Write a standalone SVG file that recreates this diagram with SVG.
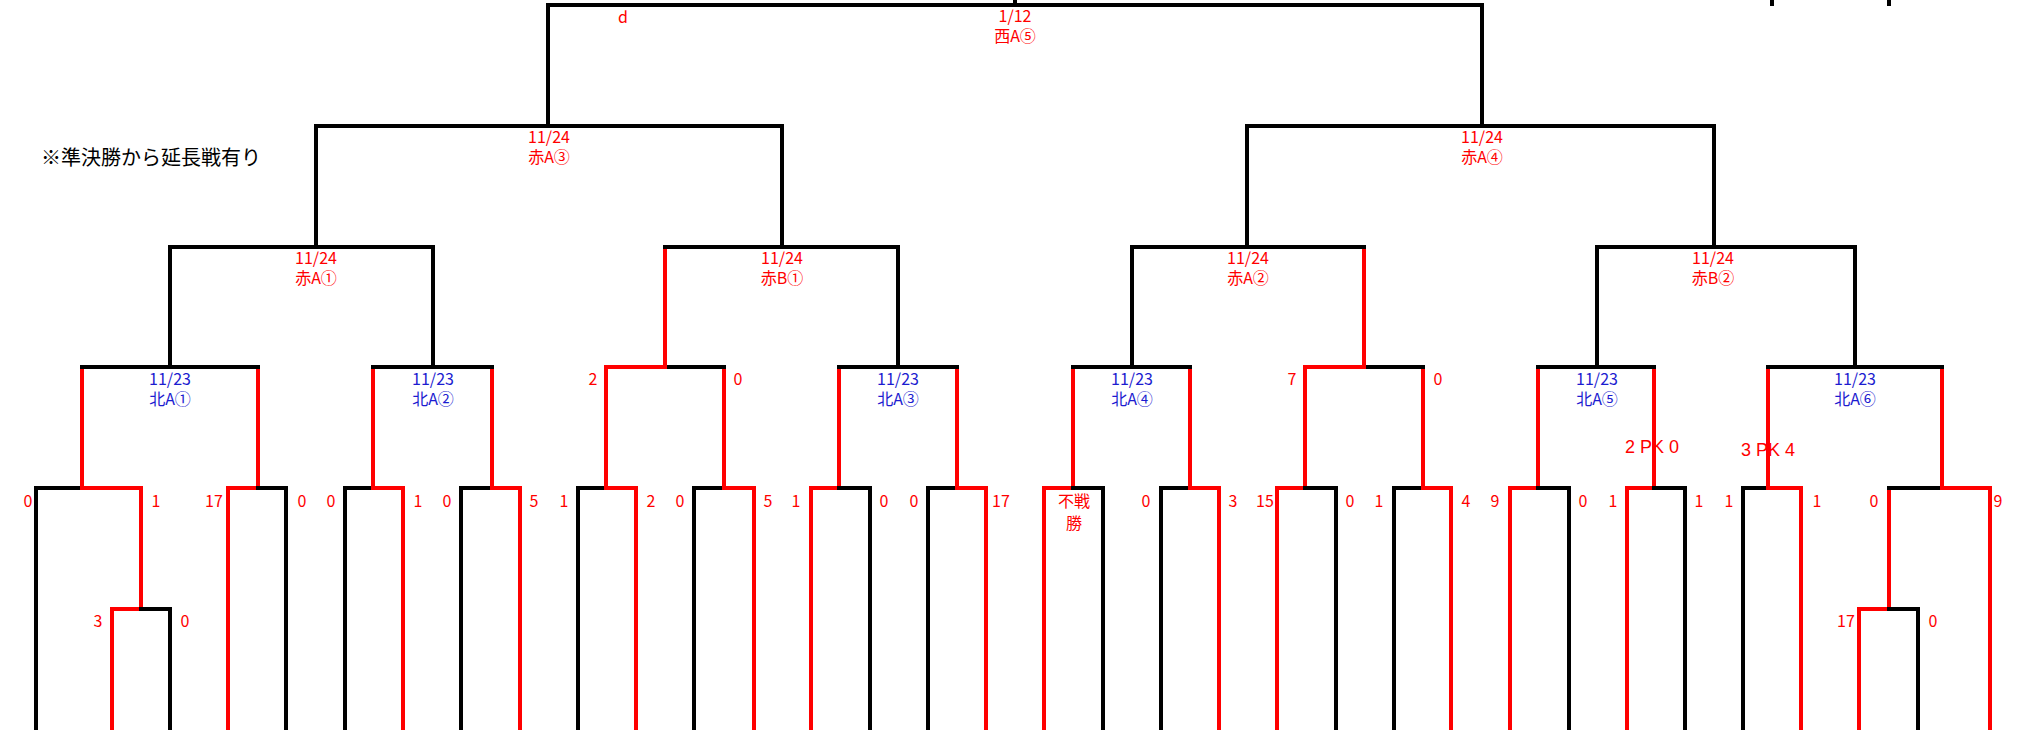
<svg xmlns="http://www.w3.org/2000/svg" width="2029" height="730" viewBox="0 0 2029 730">
<style>
.k{stroke:#000;stroke-width:4;stroke-linecap:square;fill:none}
.r{stroke:#FF0000;stroke-width:4;stroke-linecap:square;fill:none}
text{font-family:"Noto Sans CJK JP","Liberation Sans",sans-serif;font-size:16px;text-anchor:middle}
.rd{fill:#FF0000}
.bl{fill:#1C1CD0}
.pk{font-family:"Liberation Sans",sans-serif;font-size:18px}
.note{font-size:20px;text-anchor:start;fill:#000}
</style>
<rect width="2029" height="730" fill="#fff"/>
<g id="connectors">
<!-- final -->
<line class="k" x1="548" y1="5" x2="548" y2="126"/>
<line class="k" x1="1482" y1="5" x2="1482" y2="126"/>
<line class="k" x1="548" y1="5" x2="1482" y2="5"/>
<line class="k" x1="1015" y1="0" x2="1015" y2="5"/>
<line class="k" x1="1772" y1="0" x2="1772" y2="4"/>
<line class="k" x1="1889" y1="0" x2="1889" y2="4"/>
<!-- level 2 -->
<line class="k" x1="316" y1="126" x2="316" y2="247"/>
<line class="k" x1="782" y1="126" x2="782" y2="247"/>
<line class="k" x1="316" y1="126" x2="782" y2="126"/>
<line class="k" x1="1247" y1="126" x2="1247" y2="247"/>
<line class="k" x1="1714" y1="126" x2="1714" y2="247"/>
<line class="k" x1="1247" y1="126" x2="1714" y2="126"/>
<!-- level 3 -->
<line class="k" x1="170" y1="247" x2="170" y2="367"/>
<line class="k" x1="433" y1="247" x2="433" y2="367"/>
<line class="r" x1="665" y1="249" x2="665" y2="367"/>
<line class="k" x1="898" y1="247" x2="898" y2="367"/>
<line class="k" x1="1132" y1="247" x2="1132" y2="367"/>
<line class="r" x1="1364" y1="249" x2="1364" y2="367"/>
<line class="k" x1="1597" y1="247" x2="1597" y2="367"/>
<line class="k" x1="1855" y1="247" x2="1855" y2="367"/>
<line class="k" x1="170" y1="247" x2="433" y2="247"/>
<line class="k" x1="665" y1="247" x2="898" y2="247"/>
<line class="k" x1="1132" y1="247" x2="1364" y2="247"/>
<line class="k" x1="1597" y1="247" x2="1855" y2="247"/>
<!-- level 4 -->
<line class="r" x1="82" y1="369" x2="82" y2="488"/>
<line class="r" x1="258" y1="369" x2="258" y2="488"/>
<line class="r" x1="373" y1="369" x2="373" y2="488"/>
<line class="r" x1="492" y1="369" x2="492" y2="488"/>
<line class="r" x1="606" y1="369" x2="606" y2="488"/>
<line class="r" x1="724" y1="369" x2="724" y2="488"/>
<line class="r" x1="839" y1="369" x2="839" y2="488"/>
<line class="r" x1="957" y1="369" x2="957" y2="488"/>
<line class="r" x1="1073" y1="369" x2="1073" y2="488"/>
<line class="r" x1="1190" y1="369" x2="1190" y2="488"/>
<line class="r" x1="1305" y1="369" x2="1305" y2="488"/>
<line class="r" x1="1423" y1="369" x2="1423" y2="488"/>
<line class="r" x1="1538" y1="369" x2="1538" y2="488"/>
<line class="r" x1="1654" y1="369" x2="1654" y2="488"/>
<line class="r" x1="1768" y1="369" x2="1768" y2="488"/>
<line class="r" x1="1942" y1="369" x2="1942" y2="488"/>
<line class="k" x1="82" y1="367" x2="258" y2="367"/>
<line class="k" x1="373" y1="367" x2="492" y2="367"/>
<line class="k" x1="665" y1="367" x2="724" y2="367"/>
<line class="r" x1="606" y1="367" x2="665" y2="367"/>
<line class="k" x1="839" y1="367" x2="957" y2="367"/>
<line class="k" x1="1073" y1="367" x2="1190" y2="367"/>
<line class="k" x1="1364" y1="367" x2="1423" y2="367"/>
<line class="r" x1="1305" y1="367" x2="1364" y2="367"/>
<line class="k" x1="1538" y1="367" x2="1654" y2="367"/>
<line class="k" x1="1768" y1="367" x2="1942" y2="367"/>
<!-- level 5 verticals -->
<line class="k" x1="36" y1="488" x2="36" y2="732"/>
<line class="r" x1="141" y1="488" x2="141" y2="609"/>
<line class="r" x1="228" y1="488" x2="228" y2="732"/>
<line class="k" x1="286" y1="488" x2="286" y2="732"/>
<line class="k" x1="345" y1="488" x2="345" y2="732"/>
<line class="r" x1="403" y1="488" x2="403" y2="732"/>
<line class="k" x1="461" y1="488" x2="461" y2="732"/>
<line class="r" x1="520" y1="488" x2="520" y2="732"/>
<line class="k" x1="578" y1="488" x2="578" y2="732"/>
<line class="r" x1="636" y1="488" x2="636" y2="732"/>
<line class="k" x1="694" y1="488" x2="694" y2="732"/>
<line class="r" x1="754" y1="488" x2="754" y2="732"/>
<line class="r" x1="811" y1="488" x2="811" y2="732"/>
<line class="k" x1="870" y1="488" x2="870" y2="732"/>
<line class="k" x1="928" y1="488" x2="928" y2="732"/>
<line class="r" x1="986" y1="488" x2="986" y2="732"/>
<line class="r" x1="1044" y1="488" x2="1044" y2="732"/>
<line class="k" x1="1103" y1="488" x2="1103" y2="732"/>
<line class="k" x1="1161" y1="488" x2="1161" y2="732"/>
<line class="r" x1="1219" y1="488" x2="1219" y2="732"/>
<line class="r" x1="1277" y1="488" x2="1277" y2="732"/>
<line class="k" x1="1336" y1="488" x2="1336" y2="732"/>
<line class="k" x1="1394" y1="488" x2="1394" y2="732"/>
<line class="r" x1="1451" y1="488" x2="1451" y2="732"/>
<line class="r" x1="1510" y1="488" x2="1510" y2="732"/>
<line class="k" x1="1569" y1="488" x2="1569" y2="732"/>
<line class="r" x1="1627" y1="488" x2="1627" y2="732"/>
<line class="k" x1="1685" y1="488" x2="1685" y2="732"/>
<line class="k" x1="1743" y1="488" x2="1743" y2="732"/>
<line class="r" x1="1801" y1="488" x2="1801" y2="732"/>
<line class="r" x1="1889" y1="488" x2="1889" y2="609"/>
<line class="r" x1="1990" y1="488" x2="1990" y2="732"/>
<!-- level 5 horizontals -->
<line class="k" x1="36" y1="488" x2="82" y2="488"/><line class="r" x1="82" y1="488" x2="141" y2="488"/>
<line class="r" x1="228" y1="488" x2="258" y2="488"/><line class="k" x1="258" y1="488" x2="286" y2="488"/>
<line class="k" x1="345" y1="488" x2="373" y2="488"/><line class="r" x1="373" y1="488" x2="403" y2="488"/>
<line class="k" x1="461" y1="488" x2="492" y2="488"/><line class="r" x1="492" y1="488" x2="520" y2="488"/>
<line class="k" x1="578" y1="488" x2="606" y2="488"/><line class="r" x1="606" y1="488" x2="636" y2="488"/>
<line class="k" x1="694" y1="488" x2="724" y2="488"/><line class="r" x1="724" y1="488" x2="754" y2="488"/>
<line class="r" x1="811" y1="488" x2="839" y2="488"/><line class="k" x1="839" y1="488" x2="870" y2="488"/>
<line class="k" x1="928" y1="488" x2="957" y2="488"/><line class="r" x1="957" y1="488" x2="986" y2="488"/>
<line class="r" x1="1044" y1="488" x2="1073" y2="488"/><line class="k" x1="1073" y1="488" x2="1103" y2="488"/>
<line class="k" x1="1161" y1="488" x2="1190" y2="488"/><line class="r" x1="1190" y1="488" x2="1219" y2="488"/>
<line class="r" x1="1277" y1="488" x2="1305" y2="488"/><line class="k" x1="1305" y1="488" x2="1336" y2="488"/>
<line class="k" x1="1394" y1="488" x2="1423" y2="488"/><line class="r" x1="1423" y1="488" x2="1451" y2="488"/>
<line class="r" x1="1510" y1="488" x2="1538" y2="488"/><line class="k" x1="1538" y1="488" x2="1569" y2="488"/>
<line class="r" x1="1627" y1="488" x2="1654" y2="488"/><line class="k" x1="1654" y1="488" x2="1685" y2="488"/>
<line class="k" x1="1743" y1="488" x2="1768" y2="488"/><line class="r" x1="1768" y1="488" x2="1801" y2="488"/>
<line class="k" x1="1889" y1="488" x2="1942" y2="488"/><line class="r" x1="1942" y1="488" x2="1990" y2="488"/>
<!-- level 6 -->
<line class="r" x1="112" y1="609" x2="112" y2="732"/>
<line class="k" x1="170" y1="609" x2="170" y2="732"/>
<line class="r" x1="112" y1="609" x2="141" y2="609"/><line class="k" x1="141" y1="609" x2="170" y2="609"/>
<line class="r" x1="1859" y1="609" x2="1859" y2="732"/>
<line class="k" x1="1918" y1="609" x2="1918" y2="732"/>
<line class="r" x1="1859" y1="609" x2="1889" y2="609"/><line class="k" x1="1889" y1="609" x2="1918" y2="609"/>
</g>
<text class="note" x="41" y="165">※準決勝から延長戦有り</text>
<g id="final"><text class="rd" x="1015" y="22">1/12</text><text class="rd" x="1015" y="42">西A⑤</text><text class="rd" x="623" y="23">d</text></g>
<g id="sf1"><text class="rd" x="549" y="143">11/24</text><text class="rd" x="549" y="163">赤A③</text></g>
<g id="sf2"><text class="rd" x="1482" y="143">11/24</text><text class="rd" x="1482" y="163">赤A④</text></g>
<g id="qf1"><text class="rd" x="316" y="264">11/24</text><text class="rd" x="316" y="284">赤A①</text></g>
<g id="qf2"><text class="rd" x="782" y="264">11/24</text><text class="rd" x="782" y="284">赤B①</text></g>
<g id="qf3"><text class="rd" x="1248" y="264">11/24</text><text class="rd" x="1248" y="284">赤A②</text></g>
<g id="qf4"><text class="rd" x="1713" y="264">11/24</text><text class="rd" x="1713" y="284">赤B②</text></g>
<g id="r16-1"><text class="bl" x="170" y="385">11/23</text><text class="bl" x="170" y="405">北A①</text></g>
<g id="r16-2"><text class="bl" x="433" y="385">11/23</text><text class="bl" x="433" y="405">北A②</text></g>
<g id="r16-3"><text class="rd" x="593" y="385">2</text><text class="rd" x="738" y="385">0</text></g>
<g id="r16-4"><text class="bl" x="898" y="385">11/23</text><text class="bl" x="898" y="405">北A③</text></g>
<g id="r16-5"><text class="bl" x="1132" y="385">11/23</text><text class="bl" x="1132" y="405">北A④</text></g>
<g id="r16-6"><text class="rd" x="1292" y="385">7</text><text class="rd" x="1438" y="385">0</text></g>
<g id="r16-7"><text class="bl" x="1597" y="385">11/23</text><text class="bl" x="1597" y="405">北A⑤</text><text class="rd pk" x="1652" y="453">2 PK 0</text></g>
<g id="r16-8"><text class="bl" x="1855" y="385">11/23</text><text class="bl" x="1855" y="405">北A⑥</text><text class="rd pk" x="1768" y="456">3 PK 4</text></g>
<g id="r32-scores">
<text class="rd" x="28" y="507">0</text><text class="rd" x="156" y="507">1</text>
<text class="rd" x="214" y="507">17</text><text class="rd" x="302" y="507">0</text>
<text class="rd" x="331" y="507">0</text><text class="rd" x="418" y="507">1</text>
<text class="rd" x="447" y="507">0</text><text class="rd" x="534" y="507">5</text>
<text class="rd" x="564" y="507">1</text><text class="rd" x="651" y="507">2</text>
<text class="rd" x="680" y="507">0</text><text class="rd" x="768" y="507">5</text>
<text class="rd" x="796" y="507">1</text><text class="rd" x="884" y="507">0</text>
<text class="rd" x="914" y="507">0</text><text class="rd" x="1001" y="507">17</text>
<text class="rd" x="1074" y="507">不戦</text><text class="rd" x="1074" y="529">勝</text><text class="rd" x="1146" y="507">0</text>
<text class="rd" x="1233" y="507">3</text><text class="rd" x="1265" y="507">15</text>
<text class="rd" x="1350" y="507">0</text><text class="rd" x="1379" y="507">1</text>
<text class="rd" x="1466" y="507">4</text><text class="rd" x="1495" y="507">9</text>
<text class="rd" x="1583" y="507">0</text><text class="rd" x="1613" y="507">1</text>
<text class="rd" x="1699" y="507">1</text><text class="rd" x="1729" y="507">1</text>
<text class="rd" x="1817" y="507">1</text><text class="rd" x="1874" y="507">0</text>
<text class="rd" x="1998" y="507">9</text>
</g>
<g id="r64-scores">
<text class="rd" x="98" y="627">3</text><text class="rd" x="185" y="627">0</text>
<text class="rd" x="1846" y="627">17</text><text class="rd" x="1933" y="627">0</text>
</g>
</svg>
